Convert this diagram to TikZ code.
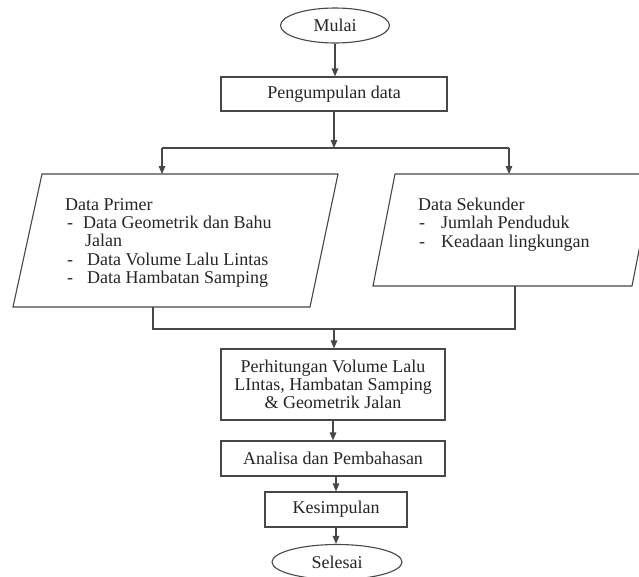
\documentclass[tikz,border=0pt]{standalone}
\usepackage{fontspec}
\setmainfont{Liberation Serif}
\usetikzlibrary{arrows.meta,shapes.geometric}
\begin{document}
\begin{tikzpicture}[x=1pt,y=-1pt,
  line/.style={draw=black!72, line width=1.1pt},
  arr/.style={line, -{Triangle[length=8pt,width=6.5pt]}},
  txtfont/.style={font=\fontsize{18}{18.3}\selectfont, text=black!85},
  box/.style={line, rectangle, minimum height=34pt, inner sep=0pt, align=center, txtfont},
  term/.style={line, ellipse, inner sep=0pt, txtfont},
  lbl/.style={inner sep=0pt, align=left, txtfont}]
\useasboundingbox (0,0) rectangle (639,576);
\clip (0,0) rectangle (639,576);
\fill[white] (0,0) rectangle (639,576);

% terminals and boxes
\node[term, minimum width=109pt, minimum height=35pt] (mulai) at (335,25.5) {Mulai};
\node[box, minimum width=226pt] (kumpul) at (334,94) {Pengumpulan data};
\node[box, minimum width=224pt, minimum height=71pt] (hitung) at (333,384.5)
  {Perhitungan Volume Lalu\\LIntas, Hambatan Samping\\\& Geometrik Jalan};
\node[box, minimum width=224pt, minimum height=35pt] (analisa) at (333,458.5) {Analisa dan Pembahasan};
\node[box, minimum width=142pt, minimum height=35pt] (simpul) at (336,509.5) {Kesimpulan};
\node[term, minimum width=130pt, minimum height=35pt] (selesai) at (337,562) {Selesai};

% parallelograms (data)
\coordinate (ptl) at (42,174);  \coordinate (ptr) at (338,174);
\coordinate (pbr) at (310,307); \coordinate (pbl) at (13,307);
\coordinate (stl) at (395,174); \coordinate (str) at (654,174);
\coordinate (sbr) at (632,286); \coordinate (sbl) at (373,286);
\draw[line] (ptl) -- (ptr) -- (pbr) -- (pbl) -- cycle;
\draw[line] (stl) -- (str) -- (sbr) -- (sbl) -- cycle;

\node[lbl, anchor=north west] (primer) at (65,198)
  {Data Primer\\
   \hspace{2pt}\makebox[16pt][l]{-}Data Geometrik dan Bahu\\
   \hspace{20pt}Jalan\\
   \hspace{2pt}\makebox[20pt][l]{-}Data Volume Lalu Lintas\\
   \hspace{2pt}\makebox[20pt][l]{-}Data Hambatan Samping};
\node[lbl, anchor=north west] (sekunder) at (418,198)
  {Data Sekunder\\
   \hspace{1pt}\makebox[22pt][l]{-}Jumlah Penduduk\\
   \hspace{1pt}\makebox[22pt][l]{-}Keadaan lingkungan};

% connector helpers
\coordinate (split) at (334,148);
\coordinate (sl) at (162,148);
\coordinate (sr) at (509,148);
\coordinate (pin) at (162,174);
\coordinate (sin) at (509,174);
\coordinate (pout) at (153,307);
\coordinate (sout) at (515,286);
\coordinate (jl) at (153,329);
\coordinate (jr) at (515,329);
\coordinate (jm) at (334,329);

% connectors
\draw[arr] (mulai.south) -- (mulai.south |- kumpul.north);
\draw[arr] (kumpul.south) -- (split);
\draw[line] (sl) -- (sr);
\draw[arr] (sl) -- (pin);
\draw[arr] (sr) -- (sin);
\draw[line] (pout) -- (jl) -- (jr) -- (sout);
\draw[arr] (jm) -- (jm |- hitung.north);
\draw[arr] (hitung.south) -- (analisa.north);
\draw[arr] (analisa.south -| simpul.north) -- (simpul.north);
\draw[arr] (simpul.south) -- (simpul.south |- selesai.north);
\end{tikzpicture}
\end{document}
